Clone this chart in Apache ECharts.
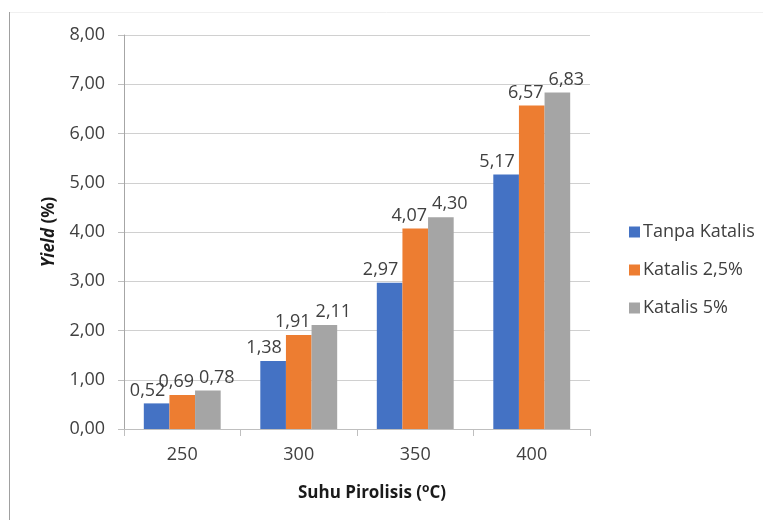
<!DOCTYPE html>
<html>
<head>
<meta charset="utf-8">
<script src="https://cdn.jsdelivr.net/npm/echarts@6/dist/echarts.min.js"></script>
<style>
  html, body { margin: 0; padding: 0; background: #fff; }
  #chart { width: 763px; height: 520px; }
</style>
</head>
<body>
<div id="chart"></div>
<script>
// Pyrolysis yield by temperature and catalyst loading
const temperatures = ['250', '300', '350', '400'];
const tanpaKatalis = [0.52, 1.38, 2.97, 5.17];
const katalis25 = [0.69, 1.91, 4.07, 6.57];
const katalis5 = [0.78, 2.11, 4.30, 6.83];
const seriesNames = ['Tanpa Katalis', 'Katalis 2,5%', 'Katalis 5%'];

const FONT = 'Open Sans';
const TEXT = '#404040';
const fmt = v => v.toFixed(2).replace('.', ',');

function barSeries(name, data, color, dx) {
  return {
    name: name,
    type: 'bar',
    data: data,
    barGap: '0%',
    barCategoryGap: '34%',
    itemStyle: { color: color },
    label: {
      show: true,
      position: 'top',
      distance: 4,
      offset: [dx, 0],
      formatter: p => fmt(p.value),
      fontFamily: FONT,
      fontSize: 18,
      color: TEXT
    }
  };
}

const chart = echarts.init(document.getElementById('chart'), null, { renderer: 'canvas' });
chart.setOption({
  animation: false,
  backgroundColor: '#fff',
  textStyle: { fontFamily: FONT },
  grid: { left: 124, right: 173, top: 35, bottom: 91, containLabel: false },
  legend: {
    orient: 'vertical',
    left: 624,
    top: 218,
    itemWidth: 11,
    itemHeight: 11,
    itemGap: 20,
    icon: 'rect',
    data: seriesNames,
    textStyle: { fontFamily: FONT, fontSize: 18, color: TEXT, padding: [0, 0, 0, -2] }
  },
  xAxis: {
    type: 'category',
    data: temperatures,
    axisLine: { lineStyle: { color: '#bfbfbf', width: 1 } },
    axisTick: { show: true, length: 7, alignWithLabel: false, lineStyle: { color: '#bfbfbf' } },
    axisLabel: { fontFamily: FONT, fontSize: 18, color: TEXT, margin: 17 },
    name: '{b|Suhu Pirolisis (}{sup|o}{b|C)}',
    nameLocation: 'middle',
    nameGap: 54,
    nameTextStyle: {
      padding: [0, 0, 0, 30],
      rich: {
        b: { fontFamily: FONT, fontSize: 17, fontWeight: 'bold', color: '#1a1a1a' },
        sup: { fontFamily: FONT, fontSize: 12, fontWeight: 'bold', color: '#1a1a1a', verticalAlign: 'top', padding: [0, 0, 8, 0] }
      }
    }
  },
  yAxis: {
    type: 'value',
    min: 0,
    max: 8,
    interval: 1,
    axisLine: { show: true, lineStyle: { color: '#a6a6a6', width: 1 } },
    axisTick: { show: true, length: 6, lineStyle: { color: '#bfbfbf' } },
    splitLine: { lineStyle: { color: '#d0d0d0', width: 1 } },
    axisLabel: { fontFamily: FONT, fontSize: 18, color: TEXT, margin: 19, formatter: v => fmt(v) },
    name: '{i|Yield}{b| (%)}',
    nameLocation: 'middle',
    nameGap: 66,
    nameRotate: 90,
    nameTextStyle: {
      rich: {
        i: { fontFamily: FONT, fontSize: 17, fontWeight: 'bold', fontStyle: 'italic', color: '#1a1a1a' },
        b: { fontFamily: FONT, fontSize: 17, fontWeight: 'bold', color: '#1a1a1a' }
      }
    }
  },
  series: [
    barSeries(seriesNames[0], tanpaKatalis, '#4472C4', -9),
    barSeries(seriesNames[1], katalis25, '#ED7D31', -6),
    barSeries(seriesNames[2], katalis5, '#A5A5A5', 9)
  ],
  graphic: [
    { type: 'line', shape: { x1: 9.5, y1: 12, x2: 9.5, y2: 520 }, style: { stroke: '#a0a0a0', lineWidth: 1 } },
    { type: 'line', shape: { x1: 10, y1: 12.5, x2: 763, y2: 12.5 }, style: { stroke: '#f0f0f0', lineWidth: 1 } }
  ]
});
</script>
</body>
</html>
